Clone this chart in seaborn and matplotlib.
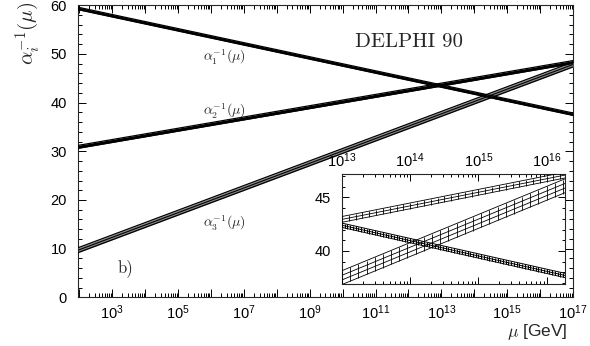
import numpy as np
import pandas as pd
import matplotlib
matplotlib.use("Agg")
import matplotlib.pyplot as plt
import seaborn as sns
from matplotlib.ticker import (LogLocator, FixedLocator, MultipleLocator,
                               FuncFormatter, NullFormatter)

# Running inverse couplings, full range (mu in GeV)
mu_main = [10 ** 1.96, 1e17]
alpha1_inv = [59.3, 37.6]
alpha2_inv = [30.9, 48.3]
alpha3_inv = [9.7, 47.8]
half_width_main = [0.25, 0.3, 0.5]

# Zoom on the unification region
mu_zoom = [1e13, 10 ** 16.27]
alpha1_zoom = [42.4, 37.7]
alpha2_zoom = [42.95, 47.1]
alpha3_zoom = [37.5, 46.1]
half_width_zoom = [0.2, 0.27, 0.65]

curve_labels = [r"$\alpha_1^{-1}(\mu)$", r"$\alpha_2^{-1}(\mu)$", r"$\alpha_3^{-1}(\mu)$"]
main_label_exponents = [3, 5, 7, 9, 11, 13, 15, 17]
zoom_label_exponents = [13, 14, 15, 16]

sns.set_theme(style="ticks")
plt.rcParams["font.family"] = ["Liberation Sans", "DejaVu Sans"]
plt.rcParams["mathtext.fontset"] = "cm"
plt.rcParams["axes.linewidth"] = 0.8


def pow10_formatter(shown):
    def fmt(v, pos):
        e = int(round(np.log10(v)))
        return r"$\mathdefault{10^{%d}}$" % e if e in shown else ""
    return FuncFormatter(fmt)


def solid_band(ax, mu, center, half, face):
    c = np.asarray(center, dtype=float)
    ax.fill_between(mu, c - half, c + half, color=face, lw=0, zorder=3)
    ax.plot(mu, c - half, color="black", lw=0.9, zorder=4)
    ax.plot(mu, c + half, color="black", lw=0.9, zorder=4)


def ladder_band(ax, mu, center, half, n_lines, step, lw=0.6):
    logmu = np.log10(mu)
    c = np.asarray(center, dtype=float)
    lo, hi = c - half, c + half
    ax.fill_between(mu, lo, hi, color="white", lw=0, zorder=2)
    for f in np.linspace(-1, 1, n_lines):
        ax.plot(mu, c + f * half, color="black", lw=lw, zorder=3)
    xr = np.arange(logmu[0], logmu[-1] + 1e-9, step)
    ax.vlines(10 ** xr, np.interp(xr, logmu, lo), np.interp(xr, logmu, hi),
              color="black", lw=lw, zorder=3)


def style_ticks(ax, size_major, size_minor):
    ax.tick_params(which="both", direction="in", top=True, right=True,
                   colors="black", width=0.7)
    ax.tick_params(which="major", length=size_major)
    ax.tick_params(which="minor", length=size_minor)


fig = plt.figure(figsize=(5.9, 3.46), dpi=100)
ax = fig.add_axes([0.1322, 0.1402, 0.8390, 0.8453])

df = pd.DataFrame({
    "mu": mu_main * 3,
    "inv": alpha1_inv + alpha2_inv + alpha3_inv,
    "curve": ["a1"] * 2 + ["a2"] * 2 + ["a3"] * 2,
})
sns.lineplot(data=df, x="mu", y="inv", hue="curve", palette=["black"] * 3,
             legend=False, lw=0.8, ax=ax, zorder=5)

solid_band(ax, mu_main, alpha1_inv, half_width_main[0], "black")
solid_band(ax, mu_main, alpha2_inv, half_width_main[1], "black")
solid_band(ax, mu_main, alpha3_inv, half_width_main[2], "#8a8a8a")

ax.set_xscale("log")
ax.set_xlim(mu_main[0], mu_main[-1])
ax.set_ylim(0, 60)
ax.xaxis.set_major_locator(LogLocator(base=10, numticks=30))
ax.xaxis.set_minor_locator(LogLocator(base=10, subs=np.arange(2, 10), numticks=200))
ax.xaxis.set_major_formatter(pow10_formatter(main_label_exponents))
ax.xaxis.set_minor_formatter(NullFormatter())
ax.yaxis.set_major_locator(MultipleLocator(10))
ax.yaxis.set_minor_locator(MultipleLocator(2))
style_ticks(ax, 6, 3)
ax.tick_params(axis="x", labelsize=10.5, pad=4)
ax.tick_params(axis="y", labelsize=10.5, pad=8)
ax.set_xlabel("")
ax.set_ylabel("")

for lbl, ypos in zip(curve_labels, [0.822, 0.638, 0.255]):
    ax.text(0.2525, ypos, lbl, transform=ax.transAxes, fontsize=10,
            ha="left", va="center")

ax.text(0.56, 0.873, "DELPHI 90", transform=ax.transAxes, fontsize=15,
        family=["cmr10", "DejaVu Serif"], ha="left", va="center")
ax.text(0.095, 0.101, "b)", transform=ax.transAxes, fontsize=12,
        family=["cmr10", "DejaVu Serif"], ha="center", va="center")

fig.text(0.046, 0.905, r"$\alpha_i^{-1}(\mu)$", rotation=90, fontsize=15,
         ha="center", va="center")
fig.text(0.91, 0.04, r"$\mu$ [GeV]", fontsize=12.5, ha="center", va="center")

# Inset: unification region
axz = fig.add_axes([0.5797, 0.1792, 0.3780, 0.3179])
axz.set_facecolor("white")
ladder_band(axz, mu_zoom, alpha1_zoom, half_width_zoom[0], 3, 0.04, lw=0.7)
ladder_band(axz, mu_zoom, alpha2_zoom, half_width_zoom[1], 3, 0.1)
ladder_band(axz, mu_zoom, alpha3_zoom, half_width_zoom[2], 4, 0.12)
axz.set_xscale("log")
axz.set_xlim(mu_zoom[0], mu_zoom[-1])
axz.set_ylim(36.9, 47.2)
axz.xaxis.set_major_locator(LogLocator(base=10, numticks=30))
axz.xaxis.set_minor_locator(LogLocator(base=10, subs=np.arange(2, 10), numticks=200))
axz.xaxis.set_major_formatter(pow10_formatter(zoom_label_exponents))
axz.xaxis.set_minor_formatter(NullFormatter())
axz.yaxis.set_major_locator(FixedLocator([40, 45]))
axz.yaxis.set_minor_locator(MultipleLocator(1))
style_ticks(axz, 5, 2.5)
axz.tick_params(axis="x", labeltop=True, labelbottom=False, labelsize=10.5, pad=3)
axz.tick_params(axis="y", labelsize=10.5, pad=8)

fig.savefig("out.png", dpi=100)
